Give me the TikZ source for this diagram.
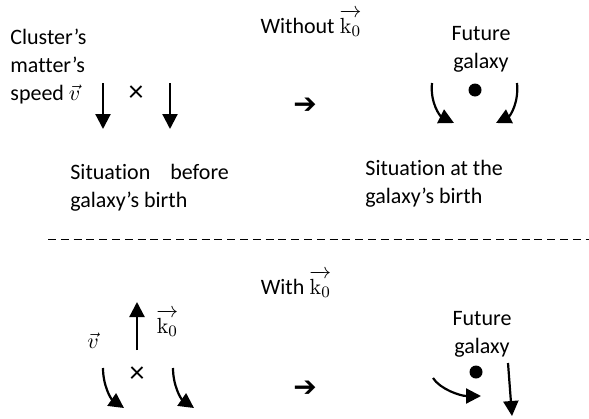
\documentclass[tikz,border=0pt]{standalone}
\usepackage[no-math]{fontspec}
\usepackage{amsmath}
\usetikzlibrary{arrows.meta}
\setmainfont[Ligatures=NoCommon]{Carlito}
\newfontfamily\symfont{DejaVu Sans}

\begin{document}
\begin{tikzpicture}[
  x=0.5pt, y=-0.5pt,
  txt/.style={inner sep=0pt, align=left, anchor=base west,
              font=\fontsize{11}{14}\selectfont},
  ctxt/.style={inner sep=0pt, align=center, anchor=base,
               font=\fontsize{11}{14}\selectfont},
  mark sym/.style={inner sep=0pt, anchor=center, font=\fontsize{15}{15}\selectfont},
  flow/.style={-{Triangle[length=7.5pt, width=7.5pt]}, line width=1.1pt},
  ddot/.style={circle, fill=black, inner sep=0pt, minimum size=6.5pt},
  sepline/.style={dash pattern=on 4pt off 2.4pt, line width=0.5pt},
]
\useasboundingbox (0,0) rectangle (589,418);

% ---- without k0 ----
\node[ctxt] (titleA) at (311,33) {Without $\overrightarrow{\mathrm{k}_0}$};
\node[txt] (cluster) at (10,100) {Cluster's\\matter's\\speed $\vec{v}$};
\node[mark sym] (crossA) at (136,94) {×};
\coordinate (a1s) at (103,83);  \coordinate (a1e) at (103,129);
\coordinate (a2s) at (170,83);  \coordinate (a2e) at (170,129);
\draw[flow] (a1s) -- (a1e);
\draw[flow] (a2s) -- (a2e);
\node[mark sym, font=\symfont\fontsize{14}{14}\selectfont] (stepA) at (305,106) {➔};
\node[txt] (beforeA) at (70,207) {Situation\hspace{10pt}before\\galaxy's birth};

\node[ctxt] (futureA) at (481,68) {Future\\galaxy};
\node[ddot] (galA) at (475,90) {};
\coordinate (a3s) at (432,83);  \coordinate (a3e) at (454,123);
\coordinate (a4s) at (517,83);  \coordinate (a4e) at (496,123);
\draw[flow] (a3s) .. controls (430,103) and (440,116) .. (a3e);
\draw[flow] (a4s) .. controls (519,103) and (510,116) .. (a4e);
\node[txt] (atA) at (365,203) {Situation at the\\galaxy's birth};

% ---- separator ----
\coordinate (sepL) at (48,239);
\coordinate (sepR) at (589,239);
\draw[sepline] (sepL) -- (sepR);

% ---- with k0 ----
\node[ctxt] (titleB) at (296,294) {With $\overrightarrow{\mathrm{k}_0}$};
\node[ctxt] (vB) at (93,348) {$\vec{v}$};
\coordinate (k0s) at (137,350); \coordinate (k0e) at (137,302);
\draw[flow] (k0s) -- (k0e);
\node[txt] (k0lbl) at (156,333) {$\overrightarrow{\mathrm{k}_0}$};
\node[mark sym] (crossB) at (137,375) {×};
\coordinate (b1s) at (103,368); \coordinate (b1e) at (124,408);
\coordinate (b2s) at (173,368); \coordinate (b2e) at (194,408);
\draw[flow] (b1s) .. controls (103,386) and (111,399) .. (b1e);
\draw[flow] (b2s) .. controls (173,386) and (181,399) .. (b2e);
\node[mark sym, font=\symfont\fontsize{14}{14}\selectfont] (stepB) at (305,389) {➔};

\node[ctxt] (futureB) at (482,353) {Future\\galaxy};
\node[ddot] (galB) at (476,372) {};
\coordinate (b3s) at (433,378); \coordinate (b3e) at (481,396);
\coordinate (b4s) at (508,363); \coordinate (b4e) at (512,416);
\draw[flow] (b3s) .. controls (440,389) and (460,396) .. (b3e);
\draw[flow] (b4s) -- (b4e);

\end{tikzpicture}
\end{document}
